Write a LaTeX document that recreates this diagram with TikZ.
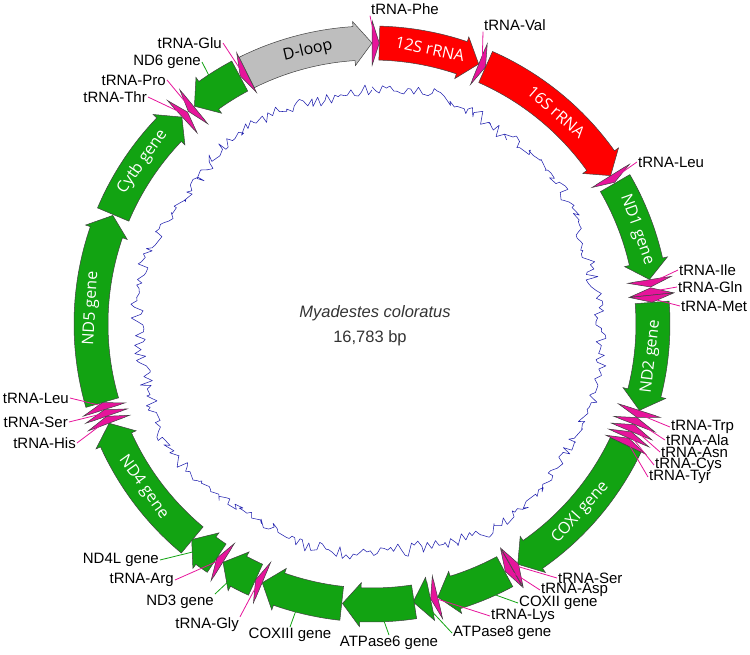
\documentclass[tikz,border=0pt]{standalone}
\usepackage{fontspec}
\setmainfont{Liberation Sans}
\newfontfamily\genefont{Open Sans}

\definecolor{genegreen}{RGB}{18,163,18}
\definecolor{rnared}{RGB}{255,0,0}
\definecolor{loopgray}{RGB}{190,190,190}
\definecolor{trnapink}{RGB}{230,20,155}
\definecolor{gcblue}{RGB}{35,35,175}

\newcommand{\router}{298pt}
\newcommand{\rinner}{264pt}
\newcommand{\rmid}{281pt}
\newcommand{\rheadout}{303pt}
\newcommand{\rheadin}{259pt}

% one feature of the map: tail (kb), tip (kb), fill, name
\newcommand{\featarrow}[4]{%
  \pgfmathsetmacro{\ftail}{90-#1*21.4503}%
  \pgfmathsetmacro{\ftip}{90-#2*21.4503}%
  \pgfmathsetmacro{\fneck}{\ftip-sign(\ftip-\ftail)*min(3.67,0.98*abs(\ftip-\ftail))}%
  \filldraw[feature,fill=#3] (\ftail:\router) arc[start angle=\ftail,end angle=\fneck,radius=\router]
    -- (\fneck:\rheadout) -- (\ftip:\rmid) -- (\fneck:\rheadin) -- (\fneck:\rinner)
    arc[start angle=\fneck,end angle=\ftail,radius=\rinner] -- cycle;
  \coordinate (#4) at ({(\ftail+\ftip)/2}:\rmid);
}

\begin{document}
\begin{tikzpicture}
  [x=1pt,y=1pt,
   feature/.style={draw=black!75,line width=0.5pt},
   outlabel/.style={font=\fontsize{15}{15}\selectfont,inner sep=1pt},
   inlabel/.style={font=\genefont\fontsize{16}{16}\selectfont,text=white,inner sep=0pt},
   trnalead/.style={draw=trnapink,line width=0.8pt},
   genelead/.style={draw=genegreen,line width=0.8pt},
   gcline/.style={draw=gcblue,line width=0.55pt,line join=round}]
  \useasboundingbox (-372,-330) rectangle (378,324);

  % GC trace
  \pgfmathsetseed{11}
  \draw[gcline] plot[domain=0:360,samples=420,variable=\t]
    ({90-\t}:{232+4*sin(3*\t+40)+3*sin(8*\t)+14*rnd-7});

  % features
  \foreach \tl/\tp/\col/\nm in {0.001/0.069/trnapink/ePhe, 0.070/1.040/rnared/e12S,
      1.041/1.111/trnapink/eVal, 1.112/2.710/rnared/e16S, 2.711/2.784/trnapink/eLeuA,
      2.793/3.770/genegreen/eND1, 3.773/3.843/trnapink/eIle, 3.921/3.851/trnapink/eGln,
      3.921/3.989/trnapink/eMet, 3.990/5.030/genegreen/eND2, 5.031/5.101/trnapink/eTrp,
      5.171/5.103/trnapink/eAla, 5.246/5.174/trnapink/eAsn, 5.313/5.248/trnapink/eCys,
      5.383/5.314/trnapink/eTyr, 5.385/6.935/genegreen/eCOXI, 6.999/6.927/trnapink/eSerA,
      7.002/7.071/trnapink/eAsp, 7.077/7.760/genegreen/eCOXII, 7.762/7.830/trnapink/eLys,
      7.832/7.999/genegreen/eATPviii, 7.990/8.673/genegreen/eATPvi,
      8.680/9.463/genegreen/eCOXIII, 9.464/9.532/trnapink/eGly, 9.533/9.884/genegreen/eND3,
      9.886/9.955/trnapink/eArg, 9.956/10.252/genegreen/eND4L, 10.246/11.623/genegreen/eND4,
      11.624/11.693/trnapink/eHis, 11.694/11.759/trnapink/eSerB, 11.760/11.829/trnapink/eLeuB,
      11.830/13.647/genegreen/eND5, 13.656/14.798/genegreen/eCytb, 14.802/14.870/trnapink/eThr,
      14.949/14.880/trnapink/ePro, 15.474/14.956/genegreen/eND6, 15.548/15.479/trnapink/eGlu,
      15.549/16.783/loopgray/eDloop}
    {\featarrow{\tl}{\tp}{\col}{\nm}}

  % names inside the ring
  \foreach \nm/\ang/\txt in {l12S/11.9/12S rRNA, l16S/41.0/16S rRNA, lND1/70.4/ND1 gene,
      lND2/96.7/ND2 gene, lCOXI/132.1/COXI gene, lND4/234.5/ND4 gene,
      lND5/273.2/ND5 gene, lCytb/305.2/Cytb gene}
  {
    \pgfmathsetmacro{\rot}{(\ang>90 && \ang<270) ? 180-\ang : -\ang}
    \node[inlabel,rotate=\rot] (\nm) at ({90-\ang}:\rmid) {\txt};
  }
  \node[inlabel,text=black,rotate=13.2] (lDloop) at ({90-346.8}:\rmid) {D-loop};

  % names outside the ring
  \foreach \nm/\x/\y/\anc/\txt in {lPhe/-2/315/west/tRNA-Phe, lVal/111/299/west/tRNA-Val,
      lLeuA/265/162/west/tRNA-Leu, lIle/306/54/west/tRNA-Ile, lGln/305/37/west/tRNA-Gln,
      lMet/308/18/west/tRNA-Met, lTrp/298/-103/west/tRNA-Trp, lAla/293/-116/west/tRNA-Ala,
      lAsn/288/-128/west/tRNA-Asn, lCys/282/-141/west/tRNA-Cys, lTyr/276/-153/west/tRNA-Tyr,
      lSerA/185/-254/west/tRNA-Ser, lAsp/168/-266/west/tRNA-Asp, lCOXII/146/-279/west/COXII gene,
      lLys/118/-292/west/tRNA-Lys, lATPviii/80/-309/west/ATPase8 gene,
      lATPvi/17/-319/center/ATPase6 gene, lCOXIII/-82/-311/center/COXIII gene,
      lGly/-132/-301/east/tRNA-Gly, lND3/-157/-278/east/ND3 gene, lArg/-197/-256/east/tRNA-Arg,
      lND4L/-212/-236/east/ND4L gene, lLeuB/-302/-74/east/tRNA-Leu, lSerB/-303/-98/east/tRNA-Ser,
      lHis/-295/-119/east/tRNA-His, lThr/-224/227/east/tRNA-Thr, lPro/-205/244/east/tRNA-Pro,
      lND6/-170/262/east/ND6 gene, lGlu/-149/281/east/tRNA-Glu}
    \node[outlabel,anchor=\anc] (\nm) at (\x,\y) {\txt};

  \foreach \from/\to in {ePhe/lPhe.south west, eVal/lVal.south west, eLeuA/lLeuA.west,
      eIle/lIle.west, eGln/lGln.west, eMet/lMet.west, eTrp/lTrp.west, eAla/lAla.west,
      eAsn/lAsn.west, eCys/lCys.west, eTyr/lTyr.west, eSerA/lSerA.west, eAsp/lAsp.west,
      eLys/lLys.west, eGly/lGly.north east, eArg/lArg.east, eLeuB/lLeuB.east,
      eSerB/lSerB.east, eHis/lHis.east, eThr/lThr.east, ePro/lPro.east, eGlu/lGlu.east}
    \draw[trnalead] (\from) -- (\to);

  \foreach \from/\to in {eCOXII/lCOXII.west, eATPviii/lATPviii.west, eATPvi/lATPvi.north,
      eCOXIII/lCOXIII.north, eND3/lND3.north east, eND4L/lND4L.east, eND6/lND6.east}
    \draw[genelead] (\from) -- (\to);

  \node[font=\fontsize{16.5}{16.5}\selectfont\itshape,text=black!80] (species) at (3,11) {Myadestes coloratus};
  \node[font=\fontsize{16.5}{16.5}\selectfont,text=black!80] (length) at (-2,-14) {16,783 bp};
\end{tikzpicture}
\end{document}
